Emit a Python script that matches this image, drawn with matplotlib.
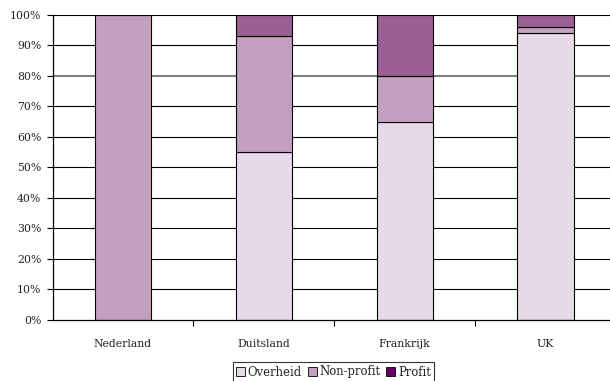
import matplotlib
matplotlib.use("Agg")
import matplotlib.pyplot as plt
from matplotlib.patches import Patch
import numpy as np

categories = ["Nederland", "Duitsland", "Frankrijk", "UK"]
overheid = [0, 55, 65, 94]
nonprofit = [100, 38, 15, 2]
profit = [0, 7, 20, 4]
yticks = [0, 10, 20, 30, 40, 50, 60, 70, 80, 90, 100]
ytick_labels = [f"{v}%" for v in yticks]

plt.rcParams['font.family'] = ['DejaVu Serif']

fig = plt.figure(figsize=(6.10, 3.81), dpi=100)
W, H = 610, 381
left, right, top, bottom = 52.5, 616, 15, 319.5
ax = fig.add_axes([left / W, 1 - bottom / H, (right - left) / W, (bottom - top) / H])

x = np.arange(len(categories))
colors = ["#E6D9E8", "#C4A0C0", "#9B5F93"]
width = 0.4
fs = 7.8
txtcol = "#222222"

for v in yticks[1:]:
    if v == 80:
        ax.axhline(v, color="#808080", lw=1.5, zorder=0)
    else:
        ax.axhline(v, color="black", lw=0.8, zorder=0)

bottoms = np.zeros(len(categories))
for vals, c in zip([overheid, nonprofit, profit], colors):
    vals = np.array(vals, dtype=float)
    ax.bar(x, vals, width, bottom=bottoms, color=c, edgecolor="black", linewidth=0.8, zorder=2)
    bottoms += vals

ax.set_xlim(-0.5, len(categories) - 0.5)
ax.set_ylim(0, 100)
ax.set_yticks(yticks)
ax.set_yticklabels(ytick_labels, fontsize=fs, color=txtcol)
ax.set_xticks(x)
ax.set_xticklabels(categories, fontsize=fs, color=txtcol)
ax.tick_params(axis='x', length=0, pad=14)
ax.set_xticks(np.arange(0.5, len(categories) - 0.5, 1), minor=True)
ax.tick_params(axis='x', which='minor', length=4, width=0.8, direction='out')
ax.tick_params(axis='y', length=4, width=0.8, direction='out', pad=4)
for s in ["top", "right"]:
    ax.spines[s].set_visible(False)
ax.spines["left"].set_linewidth(0.9)
ax.spines["bottom"].set_linewidth(0.9)

handles = [Patch(facecolor="#E6D9E8", edgecolor="black", lw=0.6, label="Overheid"),
           Patch(facecolor="#C4A0C0", edgecolor="black", lw=0.6, label="Non-profit"),
           Patch(facecolor="#660066", edgecolor="black", lw=0.6, label="Profit")]
leg = fig.legend(handles=handles, loc="center", bbox_to_anchor=(333.5 / W, 1 - 372 / H),
                 ncol=3, fontsize=8.4, frameon=True, fancybox=False,
                 handlelength=0.75, handleheight=0.75, handletextpad=0.25,
                 columnspacing=0.5, borderpad=0.3, borderaxespad=0)
for t in leg.get_texts():
    t.set_color(txtcol)
leg.get_frame().set_edgecolor("black")
leg.get_frame().set_linewidth(0.8)

fig.savefig("out.png", dpi=100)
